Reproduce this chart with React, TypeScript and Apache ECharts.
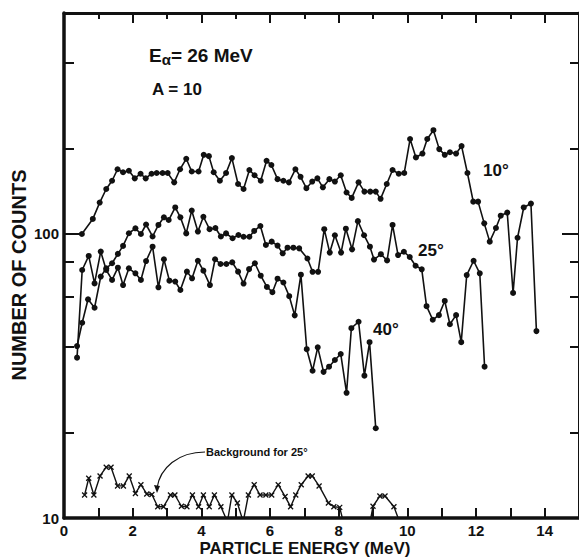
import React, { useEffect, useRef } from "react";
import * as echarts from "echarts";

// 10 degree spectrum
const energy10 = [0.52, 0.84, 1.04, 1.23, 1.40, 1.56, 1.72, 1.89, 2.06, 2.23, 2.38, 2.55, 2.70, 2.87, 3.02, 3.21, 3.38, 3.56, 3.72, 3.92, 4.07, 4.22, 4.36, 4.54, 4.72, 4.89, 5.07, 5.23, 5.40, 5.55, 5.73, 5.90, 6.04, 6.22, 6.39, 6.55, 6.74, 6.89, 7.06, 7.23, 7.38, 7.54, 7.73, 7.89, 8.06, 8.23, 8.38, 8.58, 8.75, 8.92, 9.08, 9.22, 9.40, 9.57, 9.75, 9.91, 10.08, 10.25, 10.44, 10.58, 10.76, 10.93, 11.09, 11.24, 11.42, 11.58, 11.75, 11.92, 12.06, 12.24, 12.40, 12.58, 12.72, 12.91, 13.08, 13.21, 13.39, 13.60, 13.76];
const counts10 = [100, 113, 129, 144, 154, 169, 165, 167, 157, 163, 157, 163, 164, 164, 164, 152, 169, 184, 166, 166, 190, 188, 165, 154, 164, 185, 150, 144, 168, 161, 154, 181, 175, 156, 154, 152, 169, 159, 145, 153, 157, 146, 156, 153, 161, 140, 134, 152, 141, 141, 141, 133, 150, 168, 163, 164, 216, 186, 192, 216, 232, 199, 190, 194, 192, 204, 164, 130, 130, 109, 94, 105, 116, 119, 62, 97, 124, 128, 45.5];

// 25 degree spectrum
const energy25 = [0.38, 0.53, 0.70, 0.89, 1.07, 1.23, 1.40, 1.57, 1.72, 1.89, 2.08, 2.24, 2.39, 2.58, 2.75, 2.91, 3.05, 3.24, 3.39, 3.56, 3.72, 3.90, 4.06, 4.24, 4.41, 4.57, 4.72, 4.91, 5.08, 5.23, 5.40, 5.54, 5.72, 5.88, 6.05, 6.22, 6.37, 6.51, 6.68, 6.85, 7.09, 7.24, 7.40, 7.58, 7.74, 7.89, 8.07, 8.21, 8.39, 8.56, 8.74, 8.91, 9.03, 9.23, 9.41, 9.57, 9.73, 9.90, 10.07, 10.24, 10.42, 10.56, 10.74, 10.92, 11.09, 11.24, 11.42, 11.57, 11.73, 11.93, 12.11, 12.25];
const counts25 = [40.3, 48.7, 58.9, 55.0, 70.8, 75.7, 78.9, 85.1, 90.8, 100.6, 104.7, 100, 108, 98, 107.6, 114.5, 112, 124, 114.5, 100.5, 121, 102, 115, 104, 105, 98, 100.5, 96.6, 99.2, 97.8, 97.8, 102.5, 106.7, 91.5, 94, 91, 85.5, 89.5, 89.5, 89, 82, 73.6, 73.6, 104, 86, 99, 86, 104.4, 88.3, 111, 99, 90.2, 81.3, 84.9, 80.7, 107.6, 84.3, 86.6, 83, 77.3, 75.1, 55.7, 49.9, 51.8, 58.1, 48.1, 51.8, 41.6, 71.7, 80.5, 72.7, 34.1];

// 40 degree spectrum
const energy40 = [0.38, 0.53, 0.72, 0.89, 1.07, 1.23, 1.40, 1.57, 1.72, 1.89, 2.08, 2.24, 2.39, 2.58, 2.75, 2.91, 3.07, 3.24, 3.39, 3.58, 3.73, 3.90, 4.06, 4.25, 4.40, 4.56, 4.73, 4.90, 5.07, 5.23, 5.39, 5.56, 5.73, 5.91, 6.07, 6.22, 6.39, 6.56, 6.72, 6.90, 7.07, 7.24, 7.39, 7.56, 7.72, 7.89, 8.06, 8.23, 8.37, 8.58, 8.75, 8.90, 9.08];
const counts40 = [36.7, 74.7, 83.7, 67, 86.7, 74.7, 68.9, 76.1, 66.1, 75.7, 72.7, 68.9, 80.3, 90.2, 64.9, 81.5, 68.5, 68, 63.5, 73.7, 69.8, 80.5, 74.3, 66.1, 81.5, 78.4, 78.4, 79.5, 73.7, 66.9, 75.2, 78.9, 71.3, 65.1, 62.4, 69.6, 67.5, 60.4, 51.7, 71.9, 39.3, 33, 39.9, 32.7, 34.1, 36, 37.8, 27.6, 46.6, 49.1, 31.7, 41.6, 20.7];

// Background for 25 degrees
const energyBg = [0.60, 0.72, 0.87, 1.05, 1.23, 1.37, 1.56, 1.73, 1.90, 2.08, 2.24, 2.41, 2.56, 2.73, 2.90, 3.10, 3.23, 3.42, 3.58, 3.74, 3.92, 4.06, 4.23, 4.38, 4.57, 4.76, 4.89, 5.05, 5.22, 5.37, 5.54, 5.71, 5.88, 6.05, 6.24, 6.44, 6.60, 6.75, 6.91, 7.11, 7.23, 7.43, 7.70, 7.86, 8.03, 8.20, 8.37, 8.54, 8.71, 8.93, 9.00, 9.20, 9.35, 9.61, 9.80];
const countsBg = [12.05, 13.8, 12.05, 14.06, 15.1, 15.1, 12.97, 12.97, 14.06, 12.2, 13.1, 12.15, 12.1, 10.96, 10.96, 12.05, 12.05, 11.0, 10.96, 12.05, 10.96, 12.05, 10.96, 12.05, 10.96, 9.7, 12.05, 11.3, 9.7, 12.05, 13.1, 12.05, 12.05, 12.05, 13.1, 11.9, 10.96, 12.05, 13.1, 14.06, 14.06, 12.97, 11.3, 10.96, 10.9, 9, 9, 9, 9, 9.9, 11.0, 11.95, 11.95, 10.96, 9.5];

const xLabelValues = [0, 2, 4, 6, 8, 10, 12, 14];
const xTickValues = [1, 2, 3, 4, 5, 6, 7, 8, 9, 10, 11, 12, 13, 14];
const topOddTicks = [1, 3, 5, 7, 9, 11, 13];
const topEvenTicks = [2, 4, 6, 8, 10, 12, 14];
const yLabelValues = [10, 100];
const yTickValues = [20, 40, 60, 80, 200, 400];
const yMajorTick = [100];

const FONT = "'Liberation Sans', Arial, sans-serif";
const INK = "#111";

const zip = (xs: number[], ys: number[]) => xs.map((x, i) => [x, ys[i]]);

export default function App() {
  const ref = useRef<HTMLDivElement>(null);
  useEffect(() => {
    if (!ref.current) return;
    const chart = echarts.init(ref.current, undefined, { renderer: "svg" });
    const lineStyle = { color: INK, width: 1.6 };
    const dotSeries = (name: string, xs: number[], ys: number[]) => ({
      name,
      type: "line",
      data: zip(xs, ys),
      symbol: "circle",
      symbolSize: 6,
      itemStyle: { color: INK },
      lineStyle,
      clip: true,
      z: 3,
    });
    const tickStyle = { color: INK, width: 2 };
    const xBase = { type: "value", min: 0, max: 15, offset: 0, splitLine: { show: false } };
    const yBase = { type: "log", logBase: 10, min: 10, max: 600, offset: 0, splitLine: { show: false } };
    const noLine = { show: false, onZero: false };
    chart.setOption({
      animation: false,
      backgroundColor: "#fff",
      grid: { left: 64, right: 0, top: 13, bottom: 40 },
      xAxis: [
        {
          ...xBase, position: "bottom",
          axisLine: { show: true, onZero: false, lineStyle: { color: INK, width: 3.5 } },
          axisTick: { show: true, inside: true, length: 10, customValues: xTickValues, lineStyle: tickStyle },
          axisLabel: { show: true, customValues: xLabelValues, margin: 5, color: INK, fontSize: 15, fontWeight: "bold", fontFamily: FONT },
        },
        {
          ...xBase, position: "top",
          axisLine: { show: true, onZero: false, lineStyle: { color: INK, width: 3 } },
          axisTick: { show: true, inside: true, length: 6, customValues: topOddTicks, lineStyle: tickStyle },
          axisLabel: { show: false },
        },
        {
          ...xBase, position: "top",
          axisLine: noLine,
          axisTick: { show: true, inside: true, length: 10, customValues: topEvenTicks, lineStyle: tickStyle },
          axisLabel: { show: false },
        },
      ],
      yAxis: [
        {
          ...yBase, position: "left",
          axisLine: { show: true, onZero: false, lineStyle: { color: INK, width: 3.5 } },
          axisTick: { show: true, inside: true, length: 10, customValues: yTickValues, lineStyle: tickStyle },
          axisLabel: { show: true, customValues: yLabelValues, margin: 5, color: INK, fontSize: 15, fontWeight: "bold", fontFamily: FONT },
        },
        {
          ...yBase, position: "left",
          axisLine: noLine,
          axisTick: { show: true, inside: true, length: 17, customValues: yMajorTick, lineStyle: tickStyle },
          axisLabel: { show: false },
        },
        {
          ...yBase, position: "right",
          axisLine: { show: true, onZero: false, lineStyle: { color: INK, width: 3 } },
          axisTick: { show: true, inside: true, length: 9, customValues: yTickValues, lineStyle: tickStyle },
          axisLabel: { show: false },
        },
        {
          ...yBase, position: "right",
          axisLine: noLine,
          axisTick: { show: true, inside: true, length: 17, customValues: yMajorTick, lineStyle: tickStyle },
          axisLabel: { show: false },
        },
      ],
      series: [
        dotSeries("10°", energy10, counts10),
        dotSeries("25°", energy25, counts25),
        dotSeries("40°", energy40, counts40),
        {
          name: "Background for 25°",
          type: "line",
          data: zip(energyBg, countsBg),
          symbol: "path://M0,0L10,10M10,0L0,10",
          symbolSize: 5,
          itemStyle: { color: "rgba(0,0,0,0)", borderColor: INK, borderWidth: 1.3 },
          lineStyle: { color: INK, width: 1.4 },
          clip: true,
          z: 3,
        },
      ],
      graphic: [
        {
          type: "text", x: 149, y: 44,
          style: {
            text: "E{sub|α}= 26 MeV",
            font: `bold 19px ${FONT}`, fill: INK,
            rich: { sub: { font: `bold 15px ${FONT}`, fill: INK, verticalAlign: "bottom", padding: [8, 0, 0, 0] } },
          },
        },
        { type: "text", x: 152, y: 81, style: { text: "A = 10", font: `bold 17px ${FONT}`, fill: INK } },
        { type: "text", x: 483, y: 162, style: { text: "10°", font: `bold 17px ${FONT}`, fill: INK } },
        { type: "text", x: 418, y: 242, style: { text: "25°", font: `bold 17px ${FONT}`, fill: INK } },
        { type: "text", x: 373, y: 321, style: { text: "40°", font: `bold 17px ${FONT}`, fill: INK } },
        { type: "text", x: 206, y: 446, style: { text: "Background for 25°", font: `bold 11px ${FONT}`, fill: INK } },
        {
          type: "bezierCurve",
          shape: { x1: 205, y1: 452, cpx1: 178, cpy1: 452, cpx2: 160, cpy2: 468, x2: 157, y2: 488 },
          style: { stroke: INK, lineWidth: 1.2, fill: "none" },
        },
        { type: "polygon", shape: { points: [[157, 493], [154, 485], [160, 486]] }, style: { fill: INK } },
        {
          type: "text", x: 19, y: 275, rotation: Math.PI / 2,
          style: { text: "NUMBER OF COUNTS", font: `bold 20px ${FONT}`, fill: INK, align: "center", verticalAlign: "middle" },
        },
        {
          type: "text", x: 305, y: 548,
          style: { text: "PARTICLE ENERGY (MeV)", font: `bold 17px ${FONT}`, fill: INK, align: "center", verticalAlign: "middle" },
        },
      ],
    });
    return () => chart.dispose();
  }, []);
  return <div ref={ref} style={{ position: "fixed", left: 0, top: 0, width: 579, height: 558, background: "#fff" }} />;
}
